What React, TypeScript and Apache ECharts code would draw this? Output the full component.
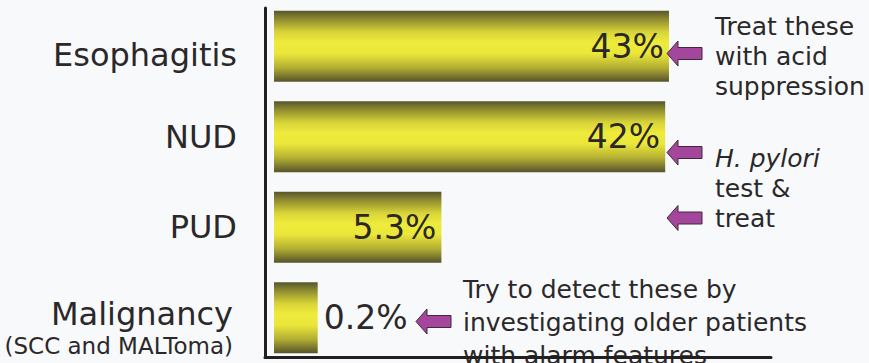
import React, { useEffect, useRef } from "react";
import * as echarts from "echarts";

// Diagnoses found at endoscopy in dyspeptic patients (%)
const categories = ["Esophagitis", "NUD", "PUD", "Malignancy"];
const malignancyNote = "(SCC and MALToma)";
const percentages = [43, 42, 5.3, 0.2];
// Value label sits inside the bar unless the bar is too short
const labelInside = [true, true, true, false];

const adviceAcid = ["Treat these", "with acid", "suppression"];
const adviceHp = ["H. pylori", "test &", "treat"];
const adviceDetect = ["Try to detect these by", "investigating older patients", "with alarm features"];

// Bar lengths use a compressive power scale so small shares stay readable
const SCALE_EXP = 0.41;
const toScale = (v: number) => Math.pow(v, SCALE_EXP);

const FONT = "'DejaVu Sans', Verdana, sans-serif";
const INK = "#2a2829";
const ARROW_FILL = "#a4479c";
const ARROW_EDGE = "#3e2a3c";

function arrow(tipX: number, cy: number) {
  const headLen = 11;
  const headHalf = 12.5;
  const bodyHalf = 6;
  const bodyEnd = tipX + 35;
  return {
    type: "polygon",
    z: 20,
    shape: {
      points: [
        [tipX, cy],
        [tipX + headLen, cy - headHalf],
        [tipX + headLen, cy - bodyHalf],
        [bodyEnd, cy - bodyHalf],
        [bodyEnd, cy + bodyHalf],
        [tipX + headLen, cy + bodyHalf],
        [tipX + headLen, cy + headHalf],
      ],
    },
    style: { fill: ARROW_FILL, stroke: ARROW_EDGE, lineWidth: 1 },
  };
}

function textBlock(x: number, y: number, text: string, lineHeight: number, italic = false) {
  return {
    type: "text",
    z: 20,
    x,
    y,
    style: {
      text,
      fontSize: 25,
      fontFamily: FONT,
      fontStyle: italic ? "italic" : "normal",
      fill: INK,
      lineHeight,
      align: "left",
      verticalAlign: "top",
    },
  };
}

export default function App() {
  const ref = useRef<HTMLDivElement>(null);

  useEffect(() => {
    if (!ref.current) return;
    const chart = echarts.init(ref.current, null, { renderer: "svg" });

    const barGradient = new echarts.graphic.LinearGradient(0, 0, 0, 1, [
      { offset: 0, color: "#57552c" },
      { offset: 0.12, color: "#8f8c30" },
      { offset: 0.3, color: "#d8d438" },
      { offset: 0.45, color: "#efeb3c" },
      { offset: 0.6, color: "#ebe73a" },
      { offset: 0.8, color: "#b3af33" },
      { offset: 1, color: "#55532b" },
    ]);

    chart.setOption({
      animation: false,
      backgroundColor: "#f8f9fa",
      grid: [
        { left: 274, right: 88, top: 1, height: 363 },
        { left: 265, right: 98, top: 8, bottom: 5.5 },
      ],
      xAxis: [
        {
          type: "value",
          gridIndex: 0,
          min: 0,
          max: 6,
          show: false,
        },
        {
          type: "value",
          gridIndex: 1,
          min: 0,
          max: 1,
          z: 50,
          axisLine: { show: true, onZero: false, lineStyle: { color: "#231f20", width: 3 } },
          axisTick: { show: false },
          axisLabel: { show: false },
          splitLine: { show: false },
        },
      ],
      yAxis: [
        {
          type: "category",
          gridIndex: 0,
          inverse: true,
          data: categories,
          axisLine: { show: false },
          axisTick: { show: false },
          axisLabel: {
            interval: 0,
            margin: 37,
            align: "right",
            color: INK,
            fontFamily: FONT,
            fontSize: 32,
            formatter: (value: string) => {
              if (value === "Malignancy") {
                return `{g| }\n{m|${value}}\n{s|${malignancyNote}}`;
              }
              if (value === "Esophagitis") {
                return `{h| }\n{n|${value}}`;
              }
              return `{n|${value}}`;
            },
            rich: {
              g: { fontSize: 10, lineHeight: 20 },
              h: { fontSize: 10, lineHeight: 18 },
              n: { fontSize: 32, lineHeight: 36, fontFamily: FONT, color: INK },
              m: { fontSize: 32, lineHeight: 36, fontFamily: FONT, color: INK, padding: [0, 4, 0, 0] },
              s: { fontSize: 23, lineHeight: 27, fontFamily: FONT, color: INK, padding: [0, 4, 0, 0] },
            },
          },
        },
        {
          type: "value",
          gridIndex: 1,
          min: 0,
          max: 1,
          z: 50,
          axisLine: { show: true, onZero: false, lineStyle: { color: "#231f20", width: 3 } },
          axisTick: { show: false },
          axisLabel: { show: false },
          splitLine: { show: false },
        },
      ],
      series: [
        {
          type: "bar",
          xAxisIndex: 0,
          yAxisIndex: 0,
          barWidth: 71,
          data: percentages.map((p, i) => ({
            value: toScale(p),
            label: {
              position: labelInside[i] ? "insideRight" : "right",
              distance: labelInside[i] ? 5 : 6,
            },
          })),
          itemStyle: { color: barGradient },
          label: {
            show: true,
            fontFamily: FONT,
            fontSize: 33,
            color: INK,
            formatter: (p: any) => `${percentages[p.dataIndex]}%`,
          },
        },
      ],
      graphic: [
        arrow(667, 53.5),
        arrow(667, 152.5),
        arrow(667, 218),
        arrow(416, 321.5),
        textBlock(715, 11, adviceAcid.join("\n"), 30),
        textBlock(715, 143, adviceHp[0], 30, true),
        textBlock(715, 173.5, adviceHp.slice(1).join("\n"), 30),
        textBlock(463, 273, adviceDetect.join("\n"), 33),
      ],
    });

    return () => chart.dispose();
  }, []);

  return (
    <div
      ref={ref}
      style={{ position: "fixed", left: 0, top: 0, width: 869, height: 363 }}
    />
  );
}
